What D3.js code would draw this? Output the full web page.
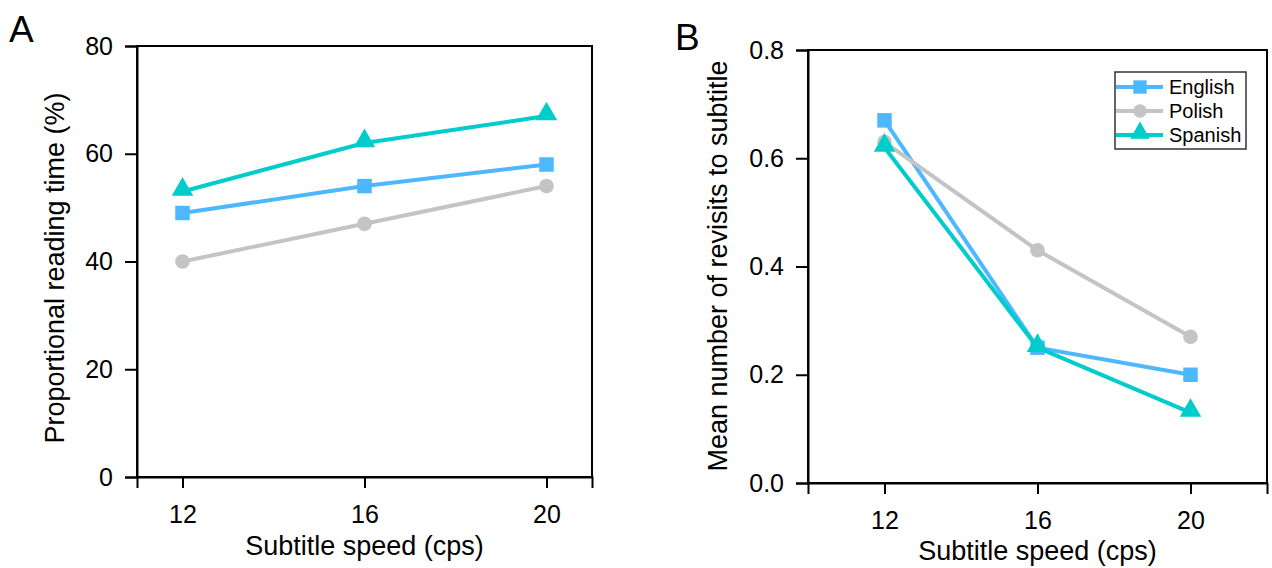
<!DOCTYPE html>
<html>
<head>
<meta charset="utf-8">
<script src="https://cdn.jsdelivr.net/npm/d3@7"></script>
<style>
  html, body { margin: 0; padding: 0; background: #fff; }
  svg { display: block; font-family: "Liberation Sans", Arial, sans-serif; }
</style>
</head>
<body>
<svg id="chart" width="1272" height="568"></svg>
<script>
// Subtitle speed levels (characters per second)
const speeds = [12, 16, 20];
const languages = ["English", "Polish", "Spanish"];

// Panel A: proportional reading time (%)
const readingEnglish = [49, 54, 58];
const readingPolish  = [40, 47, 54];
const readingSpanish = [53, 62, 67];

// Panel B: mean number of revisits to subtitle
const revisitsEnglish = [0.67, 0.25, 0.20];
const revisitsPolish  = [0.63, 0.43, 0.27];
const revisitsSpanish = [0.62, 0.25, 0.13];

const ticksA = [0, 20, 40, 60, 80];
const ticksB = [0.0, 0.2, 0.4, 0.6, 0.8];

const colors = { English: "#4db8ff", Polish: "#c4c4c4", Spanish: "#00cccc" };
const shapes = { English: d3.symbolSquare, Polish: d3.symbolCircle, Spanish: d3.symbolTriangle };
const sizes  = { English: 210, Polish: 170, Spanish: 200 };

const FONT = "Liberation Sans, Arial, sans-serif";
const svg = d3.select("#chart");

function panel(opts) {
  const g = svg.append("g");
  const x = d3.scaleLinear().domain(opts.xDomain).range([opts.left, opts.right]);
  const y = d3.scaleLinear().domain(opts.yDomain).range([opts.bottom, opts.top]);

  // frame
  g.append("rect")
    .attr("x", opts.left).attr("y", opts.top)
    .attr("width", opts.right - opts.left).attr("height", opts.bottom - opts.top)
    .attr("fill", "none").attr("stroke", "#000").attr("stroke-width", 2);

  // y axis
  const ya = g.append("g").attr("transform", `translate(${opts.left},0)`)
    .attr("font-size", 25).attr("font-family", FONT)
    .call(d3.axisLeft(y).tickValues(opts.yTicks).tickFormat(opts.yFmt).tickSize(12).tickPadding(12));
  ya.attr("font-size", 25).attr("font-family", FONT);
  ya.select(".domain").attr("stroke-width", 2);
  ya.selectAll(".tick line").attr("stroke-width", 2);
  ya.selectAll(".tick text").attr("fill", "#000").style("font-size", "25px");

  // x axis
  const xa = g.append("g").attr("transform", `translate(0,${opts.bottom})`)
    .call(d3.axisBottom(x).tickValues(speeds).tickFormat(d3.format("d")).tickSize(11).tickPadding(17));
  xa.attr("font-size", 25).attr("font-family", FONT);
  xa.select(".domain").attr("stroke-width", 2);
  xa.selectAll(".tick line").attr("stroke-width", 2);
  xa.selectAll(".tick text").attr("fill", "#000").style("font-size", "25px");

  // axis titles
  g.append("text")
    .attr("x", (x(12) + x(20)) / 2).attr("y", opts.bottom + opts.xTitleDy)
    .attr("text-anchor", "middle").style("font-size", "27px")
    .text("Subtitle speed (cps)");
  g.append("text")
    .attr("transform", `translate(${opts.yTitleX},${opts.yTitleY}) rotate(-90)`)
    .attr("text-anchor", "middle").style("font-size", "27px")
    .text(opts.yTitle);

  // panel letter
  g.append("text").attr("x", opts.letterX).attr("y", opts.letterY)
    .style("font-size", "37px").text(opts.letter);

  // series
  const line = d3.line().x(d => x(d[0])).y(d => y(d[1]));
  opts.series.forEach(s => {
    const pts = speeds.map((sp, i) => [sp, s.values[i]]);
    g.append("path").datum(pts)
      .attr("d", line).attr("fill", "none")
      .attr("stroke", colors[s.name]).attr("stroke-width", 4);
    g.selectAll(null).data(pts).enter().append("path")
      .attr("transform", d => `translate(${x(d[0])},${y(d[1]) + (s.name === "Spanish" ? -2 : 0)})`)
      .attr("d", d3.symbol().type(shapes[s.name]).size(sizes[s.name]))
      .attr("fill", colors[s.name]);
  });
  return { g, x, y };
}

panel({
  left: 137, right: 592, top: 46, bottom: 477,
  xDomain: [11, 21], yDomain: [0, 80], yTicks: ticksA, yFmt: d3.format("d"),
  yTitle: "Proportional reading time (%)", yTitleX: 64, yTitleY: 268, xTitleDy: 78,
  letter: "A", letterX: 9, letterY: 42,
  series: [
    { name: "English", values: readingEnglish },
    { name: "Polish", values: readingPolish },
    { name: "Spanish", values: readingSpanish }
  ]
});

const pB = panel({
  left: 808, right: 1267, top: 50, bottom: 483,
  xDomain: [10, 22], yDomain: [0, 0.8], yTicks: ticksB, yFmt: d3.format(".1f"),
  yTitle: "Mean number of revisits to subtitle", yTitleX: 727, yTitleY: 266, xTitleDy: 77,
  letter: "B", letterX: 675, letterY: 50,
  series: [
    { name: "English", values: revisitsEnglish },
    { name: "Polish", values: revisitsPolish },
    { name: "Spanish", values: revisitsSpanish }
  ]
});

// legend
const lg = pB.g.append("g").attr("transform", "translate(1115,72)");
lg.append("rect").attr("width", 131).attr("height", 77)
  .attr("fill", "#fff").attr("stroke", "#333").attr("stroke-width", 1.5);
languages.forEach((name, i) => {
  const yy = 15 + i * 24;
  lg.append("line").attr("x1", 1).attr("x2", 48).attr("y1", yy).attr("y2", yy)
    .attr("stroke", colors[name]).attr("stroke-width", 4);
  lg.append("path")
    .attr("transform", `translate(25,${yy + (name === "Spanish" ? -2 : 0)})`)
    .attr("d", d3.symbol().type(shapes[name]).size(sizes[name] * 0.85))
    .attr("fill", colors[name]);
  lg.append("text").attr("x", 54).attr("y", yy + 7)
    .style("font-size", "20px").text(name);
});
</script>
</body>
</html>
